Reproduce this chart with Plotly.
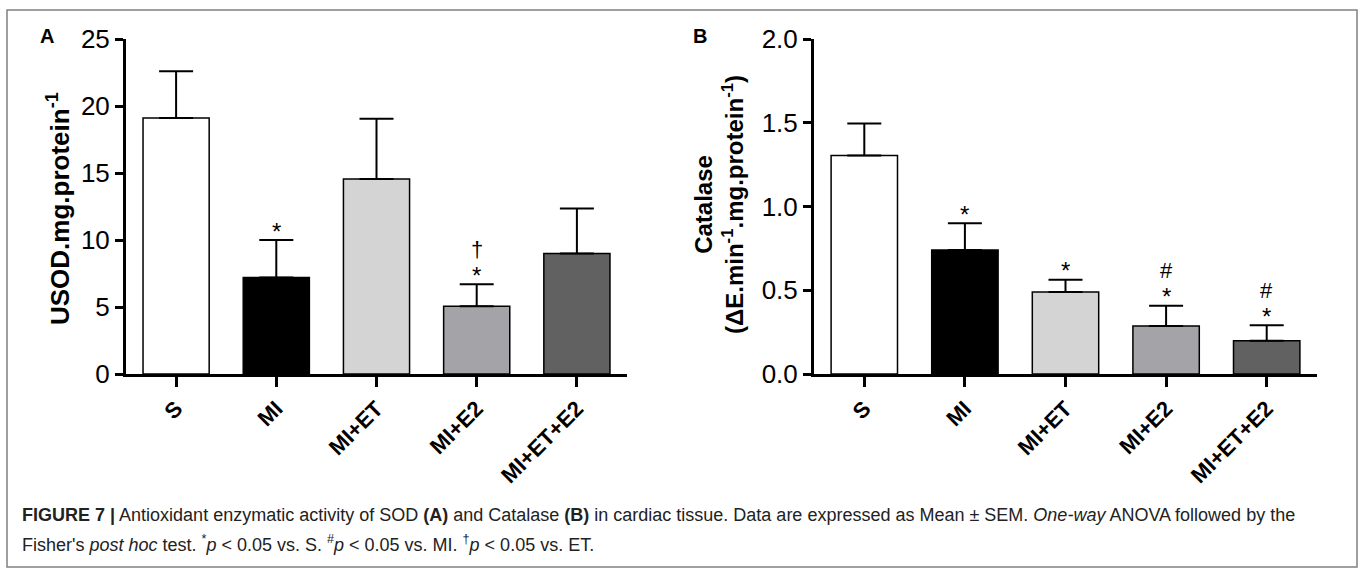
import plotly.graph_objects as go

# ---------------- data ----------------
categories = ["S", "MI", "MI+ET", "MI+E2", "MI+ET+E2"]
bar_colors = ["#ffffff", "#000000", "#d4d4d4", "#a4a4a8", "#616161"]

sod_mean = [19.1, 7.2, 14.55, 5.05, 9.0]
sod_sem = [3.5, 2.8, 4.5, 1.65, 3.35]

cat_mean = [1.305, 0.74, 0.49, 0.287, 0.199]
cat_sem = [0.19, 0.16, 0.073, 0.12, 0.092]

# significance marks per group, listed bottom -> top
sod_marks = {"MI": ["*"], "MI+E2": ["*", "†"]}
cat_marks = {"MI": ["*"], "MI+ET": ["*"], "MI+E2": ["*", "#"], "MI+ET+E2": ["*", "#"]}

sod_ticks = [0, 5, 10, 15, 20, 25]
cat_ticks = [0.0, 0.5, 1.0, 1.5, 2.0]

W, H = 1360, 577
FONT = "Liberation Sans, Arial, sans-serif"


def px_x(p):
    return p / W


def px_y(p):
    return 1 - p / H


fig = go.Figure()

for mean, sem, xa, ya in [(sod_mean, sod_sem, "x", "y"), (cat_mean, cat_sem, "x2", "y2")]:
    fig.add_trace(go.Bar(
        x=categories, y=mean, xaxis=xa, yaxis=ya, width=0.66,
        marker=dict(color=bar_colors, line=dict(color="black", width=1.5)),
        error_y=dict(type="data", array=sem, arrayminus=[0] * len(sem), symmetric=False,
                     color="black", thickness=2, width=17),
        showlegend=False, hoverinfo="skip",
    ))

axis_common = dict(showline=True, linewidth=3, linecolor="black", showgrid=False,
                   zeroline=False, ticks="outside", tickwidth=3, tickcolor="black",
                   automargin=False)

fig.update_layout(
    width=W, height=H, margin=dict(l=0, r=0, t=0, b=0, pad=0, autoexpand=False),
    paper_bgcolor="white", plot_bgcolor="white",
    font=dict(family=FONT, color="black"),
    xaxis=dict(domain=[px_x(126), px_x(627)], anchor="y", type="category",
               categoryorder="array", categoryarray=categories, range=[-0.5, 4.5],
               ticklen=10, tickangle=-45,
               tickfont=dict(size=22, family=FONT, weight="bold"), **axis_common),
    yaxis=dict(domain=[px_y(374), px_y(39)], anchor="x", range=[0, 25], tickvals=sod_ticks,
               ticklen=8, tickfont=dict(size=26, family=FONT), **axis_common),
    xaxis2=dict(domain=[px_x(814), px_x(1317)], anchor="y2", type="category",
                categoryorder="array", categoryarray=categories, range=[-0.5, 4.5],
                ticklen=10, tickangle=-45,
                tickfont=dict(size=22, family=FONT, weight="bold"), **axis_common),
    yaxis2=dict(domain=[px_y(374), px_y(39)], anchor="x2", range=[0, 2.0], tickvals=cat_ticks,
                tickformat=".1f", ticklen=8, tickfont=dict(size=26, family=FONT), **axis_common),
)

# significance marks
for marks, mean, sem, xr, yr in [(sod_marks, sod_mean, sod_sem, "x", "y"),
                                 (cat_marks, cat_mean, cat_sem, "x2", "y2")]:
    for cat, syms in marks.items():
        i = categories.index(cat)
        top = mean[i] + sem[i]
        for k, s in enumerate(syms):
            shift = 9 if s == "*" else 35
            fig.add_annotation(x=cat, y=top, xref=xr, yref=yr, text=s, showarrow=False,
                               xanchor="center", yanchor="middle", yshift=shift,
                               font=dict(size=24 if s == "*" else 22, family=FONT, color="black"))


def label(x, y, text, size, angle=0, **kw):
    fig.add_annotation(x=px_x(x), y=px_y(y), xref="paper", yref="paper", text=text,
                       textangle=angle, showarrow=False,
                       xanchor=kw.pop("xanchor", "center"), yanchor="middle",
                       font=dict(size=size, family=FONT, color=kw.pop("color", "black")), **kw)


# axis titles
label(58, 209, "<b>USOD.mg.protein<sup>-1</sup></b>", 26, angle=-90)
label(719, 205, "<b>Catalase</b><br><b>(ΔE.min<sup>-1</sup>.mg.protein<sup>-1</sup>)</b>", 24,
      angle=-90, align="center")

# panel letters
label(47, 36, "<b>A</b>", 20)
label(700, 36, "<b>B</b>", 20)

# caption
cap1 = ("<b>FIGURE 7 |</b> Antioxidant enzymatic activity of SOD <b>(A)</b> and Catalase <b>(B)</b> "
        "in cardiac tissue. Data are expressed as Mean ± SEM. <i>One-way</i> ANOVA followed by the")
cap2 = ("Fisher's <i>post hoc</i> test. <sup>*</sup><i>p</i> &lt; 0.05 vs. S. <sup>#</sup><i>p</i> &lt; 0.05 "
        "vs. MI. <sup>†</sup><i>p</i> &lt; 0.05 vs. ET.")
label(20, 515, cap1, 18, xanchor="left", color="#222")
label(20, 543, cap2, 18, xanchor="left", color="#222")

# figure border
fig.add_shape(type="rect", xref="paper", yref="paper",
              x0=px_x(7), x1=px_x(1357), y0=px_y(567), y1=px_y(10),
              line=dict(color="#808080", width=1.5))

fig.write_html("out.html", config={"displayModeBar": False},
               post_script="document.body.style.margin='0';")
